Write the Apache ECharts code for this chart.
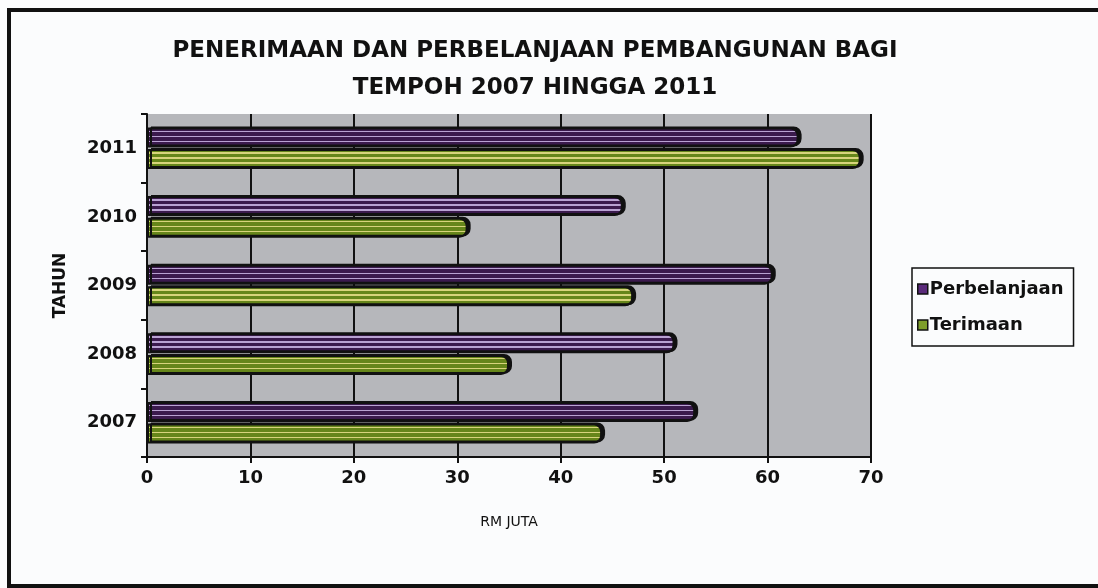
<!DOCTYPE html>
<html>
<head>
<meta charset="utf-8">
<title>Penerimaan dan Perbelanjaan Pembangunan</title>
<script src="https://cdn.jsdelivr.net/npm/echarts@6/dist/echarts.min.js"></script>
<style>
  html, body { margin: 0; padding: 0; background: #fbfcfd; }
  #frame {
    position: absolute; left: 7px; top: 8px; width: 1100px; height: 572px;
    border-top: 4px solid #111; border-left: 4px solid #111; border-bottom: 4px solid #111;
  }
  #chart { position: absolute; left: 0; top: 0; width: 1098px; height: 588px; }
</style>
</head>
<body>
<div id="frame"></div>
<div id="chart"></div>
<script>
// Data (RM juta)
const years = ["2007", "2008", "2009", "2010", "2011"];
const perbelanjaan = [53, 51, 60.5, 46, 63];
const terimaan = [44, 35, 47, 31, 69];
const xTicks = [0, 10, 20, 30, 40, 50, 60, 70];

const PURPLE = "#3b1a4d";
const GREEN = "#66861a";
const BOLD_FONT = "DejaVu Sans, Verdana, sans-serif";

// striped cylinder look: vertical gradient with thin light bands
function stripes(dark, light) {
  const stops = [];
  const n = 4;
  for (let i = 0; i < n; i++) {
    const a = i / n;
    stops.push({ offset: a, color: dark });
    stops.push({ offset: (i + 0.6) / n, color: dark });
    stops.push({ offset: (i + 0.61) / n, color: light });
    stops.push({ offset: (i + 0.88) / n, color: light });
    stops.push({ offset: (i + 0.89) / n, color: dark });
  }
  stops.push({ offset: 1, color: dark });
  return { type: "linear", x: 0, y: 0, x2: 0, y2: 1, colorStops: stops };
}

const chart = echarts.init(document.getElementById("chart"));

const barBase = {
  type: "bar",
  barWidth: 20,
  barGap: "8%",
  barCategoryGap: "36%",
  itemStyle: {
    borderColor: "#111",
    borderWidth: 2,
    borderRadius: [0, 7, 7, 0],
    shadowColor: "#111",
    shadowOffsetX: 3,
    shadowOffsetY: -1,
  },
};

chart.setOption({
  backgroundColor: "transparent",
  animation: false,
  textStyle: { fontFamily: BOLD_FONT },
  title: {
    text: "PENERIMAAN DAN PERBELANJAAN PEMBANGUNAN BAGI\nTEMPOH 2007 HINGGA 2011",
    left: 530,
    top: 28,
    textAlign: "center",
    textStyle: {
      fontSize: 23,
      fontWeight: "bold",
      color: "#111",
      lineHeight: 37,
      fontFamily: BOLD_FONT,
    },
  },
  legend: {
    orient: "vertical",
    left: 912,
    top: 268,
    data: [
      { name: "Perbelanjaan", itemStyle: { color: "#5a2a7a" } },
      { name: "Terimaan", itemStyle: { color: "#7e9e2a" } },
    ],
    itemWidth: 10,
    itemHeight: 10,
    itemGap: 18,
    padding: [12, 10, 12, 5],
    borderColor: "#111",
    borderWidth: 1.5,
    icon: "rect",
    itemStyle: { borderColor: "#111", borderWidth: 1.5, shadowBlur: 0, shadowOffsetX: 0, shadowOffsetY: 0 },
    textStyle: { fontSize: 18, fontWeight: "bold", color: "#111", padding: [0, 0, 0, -3], fontFamily: BOLD_FONT },
  },
  grid: {
    left: 147,
    right: 227,
    top: 114,
    bottom: 131,
    show: true,
    backgroundColor: "#b6b7bb",
    borderWidth: 0,
  },
  xAxis: {
    type: "value",
    min: 0,
    max: 70,
    interval: 10,
    name: "RM JUTA",
    nameLocation: "middle",
    nameGap: 58,
    nameTextStyle: { fontSize: 14, color: "#111", fontWeight: "normal", fontFamily: BOLD_FONT },
    axisLine: { show: true, lineStyle: { color: "#111", width: 2 } },
    axisTick: { show: true, length: 6, lineStyle: { color: "#111", width: 2 } },
    axisLabel: {
      fontSize: 18,
      fontWeight: "bold",
      color: "#111",
      margin: 12,
      fontFamily: BOLD_FONT,
      formatter: (v) => (xTicks.includes(v) ? String(v) : ""),
    },
    splitLine: { show: true, lineStyle: { color: "#111", width: 2 } },
  },
  yAxis: {
    type: "category",
    data: years,
    name: "TAHUN",
    nameLocation: "middle",
    nameGap: 78,
    nameRotate: 90,
    nameTextStyle: { fontSize: 17, fontWeight: "bold", color: "#111", fontFamily: BOLD_FONT },
    axisLine: { show: true, lineStyle: { color: "#111", width: 2 } },
    axisTick: { show: true, length: 6, lineStyle: { color: "#111", width: 2 } },
    axisLabel: { fontSize: 18, fontWeight: "bold", color: "#111", margin: 10, fontFamily: BOLD_FONT },
  },
  series: [
    {
      ...barBase,
      name: "Perbelanjaan",
      data: perbelanjaan,
      itemStyle: { ...barBase.itemStyle, color: stripes(PURPLE, "#b9a2d2") },
    },
    {
      ...barBase,
      name: "Terimaan",
      data: terimaan,
      itemStyle: { ...barBase.itemStyle, color: stripes(GREEN, "#d8d47c") },
    },
  ],
});
</script>
</body>
</html>
